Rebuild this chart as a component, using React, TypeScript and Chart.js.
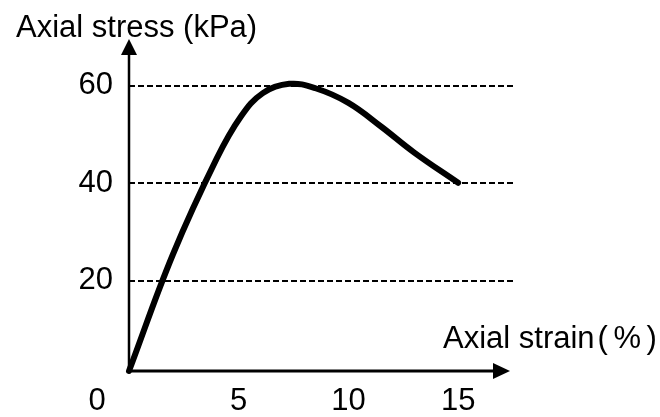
import { useEffect, useRef } from 'react';
import { Chart, registerables } from 'chart.js';

Chart.register(...registerables);

// ---- data ----
const STRAIN = [0, 2, 4, 5.1, 6.1, 7.3, 8.5, 10, 11.5, 13, 15];
const STRESS = [1.5, 25.4, 45.1, 53.7, 58.5, 60.4, 59.5, 56.5, 51.6, 46.3, 40.1];
const X_TICKS = [5, 10, 15];
const Y_TICKS = [20, 40, 60];
const ORIGIN_LABEL = '0';
const Y_TITLE = 'Axial stress (kPa)';
const X_TITLE = 'Axial strain';
const X_UNIT = '(%)';
const X_MIN = 0;
const X_MAX = 17.5;
const Y_MIN = 1.5;
const Y_MAX = 69.6;

const FONT = "'Liberation Sans', Arial, Helvetica, 'Noto Sans CJK SC', sans-serif";
const FONT_SIZE = 31;

const decor = {
  id: 'decor',
  beforeDatasetsDraw(chart: any) {
    const { ctx, chartArea } = chart;
    const { left, right, top, bottom } = chartArea;
    ctx.save();
    ctx.strokeStyle = '#000';
    ctx.fillStyle = '#000';
    // y axis line
    ctx.lineWidth = 2.5;
    ctx.beginPath();
    ctx.moveTo(left, bottom + 1);
    ctx.lineTo(left, top + 10);
    ctx.stroke();
    // x axis line
    ctx.lineWidth = 3;
    ctx.beginPath();
    ctx.moveTo(left - 1, bottom);
    ctx.lineTo(right - 12, bottom);
    ctx.stroke();
    // y arrow head
    ctx.beginPath();
    ctx.moveTo(left, top);
    ctx.lineTo(left - 8, top + 16);
    ctx.lineTo(left + 8, top + 16);
    ctx.closePath();
    ctx.fill();
    // x arrow head
    const tip = right - 3;
    ctx.beginPath();
    ctx.moveTo(tip, bottom);
    ctx.lineTo(tip - 17, bottom - 8);
    ctx.lineTo(tip - 17, bottom + 8);
    ctx.closePath();
    ctx.fill();
    ctx.restore();
  },
  afterDraw(chart: any) {
    const { ctx, chartArea, scales } = chart;
    ctx.save();
    ctx.fillStyle = '#000';
    ctx.font = `${FONT_SIZE}px ${FONT}`;
    ctx.textBaseline = 'alphabetic';
    ctx.textAlign = 'left';
    // y title
    ctx.fillText(Y_TITLE, 16, 37);
    // x title
    ctx.fillText(X_TITLE, 443, 348);
    const w = ctx.measureText(X_TITLE).width;
    (ctx as any).letterSpacing = '5.5px';
    ctx.fillText(X_UNIT, 443 + w + 3, 348);
    (ctx as any).letterSpacing = '0px';
    // origin label
    ctx.textAlign = 'center';
    ctx.textBaseline = 'middle';
    const x0 = scales.x.getPixelForValue(X_MIN) - 32;
    ctx.fillText(ORIGIN_LABEL, x0, chartArea.bottom + 12 + FONT_SIZE * 0.6);
    ctx.restore();
  },
};

export default function App() {
  const ref = useRef<HTMLCanvasElement | null>(null);

  useEffect(() => {
    if (!ref.current) return;
    const chart = new Chart(ref.current, {
      type: 'line',
      data: {
        datasets: [
          {
            data: STRAIN.map((x, i) => ({ x, y: STRESS[i] })),
            borderColor: '#000',
            borderWidth: 6,
            pointRadius: 0,
            tension: 0.4,
            borderCapStyle: 'round',
            borderJoinStyle: 'round',
            fill: false,
            clip: false,
          } as any,
        ],
      },
      options: {
        responsive: false,
        animation: false,
        events: [],
        layout: { padding: { top: 39, right: 147, bottom: 0, left: 0 } },
        plugins: { legend: { display: false }, tooltip: { enabled: false }, title: { display: false } },
        scales: {
          x: {
            type: 'linear',
            min: X_MIN,
            max: X_MAX,
            afterBuildTicks: (s: any) => {
              s.ticks = X_TICKS.map((v) => ({ value: v }));
            },
            afterFit: (s: any) => {
              s.height = 46;
            },
            grid: { display: false, drawTicks: false },
            border: { display: false },
            ticks: {
              color: '#000',
              font: { family: FONT, size: FONT_SIZE },
              padding: 12,
              maxRotation: 0,
              autoSkip: false,
            },
          },
          y: {
            type: 'linear',
            min: Y_MIN,
            max: Y_MAX,
            afterBuildTicks: (s: any) => {
              s.ticks = Y_TICKS.map((v) => ({ value: v }));
            },
            afterFit: (s: any) => {
              s.width = 129;
            },
            grid: { color: '#000', lineWidth: 2, drawTicks: false, borderDash: [6, 3] } as any,
            border: { display: false, dash: [6, 3] },
            ticks: {
              color: '#000',
              font: { family: FONT, size: FONT_SIZE },
              padding: 16,
              autoSkip: false,
            },
          },
        },
      },
      plugins: [decor],
    });
    return () => chart.destroy();
  }, []);

  return (
    <div style={{ position: 'fixed', left: 0, top: 0, width: 660, height: 417, background: '#fff' }}>
      <canvas ref={ref} width={660} height={417} />
    </div>
  );
}
